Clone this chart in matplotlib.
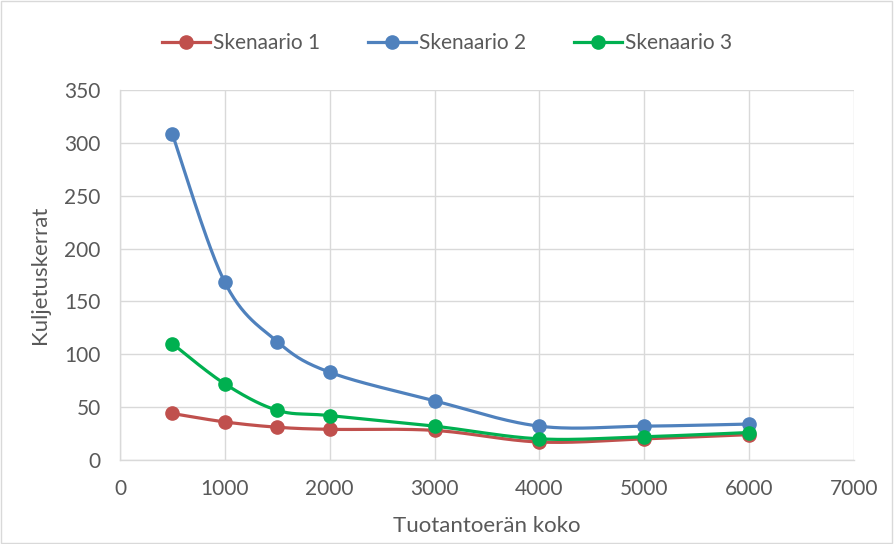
import matplotlib
matplotlib.use('Agg')
import matplotlib.pyplot as plt
from matplotlib.patches import Rectangle
import numpy as np

#=====================================================================
#     Data
#
batchSizes = [500, 1000, 1500, 2000, 3000, 4000, 5000, 6000]
scenario1 = [44, 36, 31, 29, 28, 17, 20, 24]
scenario2 = [308, 168, 112, 83, 56, 32, 32, 34]
scenario3 = [110, 72, 47, 42, 32, 20, 22, 26]

seriesNames = ['Skenaario 1', 'Skenaario 2', 'Skenaario 3']
seriesColors = ['#C0504D', '#4F81BD', '#00B050']

xTicks = [0, 1000, 2000, 3000, 4000, 5000, 6000, 7000]
yTicks = [0, 50, 100, 150, 200, 250, 300, 350]
#=====================================================================


def smooth(x, y, n=30):
    # Bezier smoothing through every point, tangents from neighbours
    x = np.asarray(x, float)
    y = np.asarray(y, float)
    px = np.concatenate([[x[0]], x, [x[-1]]])
    py = np.concatenate([[y[0]], y, [y[-1]]])
    t = np.linspace(0, 1, n)
    xs, ys = [], []
    for i in range(len(x) - 1):
        p0 = np.array([px[i + 1], py[i + 1]])
        p3 = np.array([px[i + 2], py[i + 2]])
        c1 = p0 + (p3 - np.array([px[i], py[i]])) / 6.0
        c2 = p3 - (np.array([px[i + 3], py[i + 3]]) - p0) / 6.0
        b = ((1 - t)**3)[:, None] * p0 + (3 * (1 - t)**2 * t)[:, None] * c1 \
            + (3 * (1 - t) * t**2)[:, None] * c2 + (t**3)[:, None] * p3
        xs.append(b[:, 0])
        ys.append(b[:, 1])
    return np.concatenate(xs), np.concatenate(ys)


plt.rcParams['font.family'] = ['Lato', 'DejaVu Sans']
textColor = '#595959'
textsize = 15

fig = plt.figure(figsize=(8.94, 5.44), dpi=100)
ax = fig.add_axes([120 / 894, 84 / 544, 734 / 894, 370 / 544])

for vals, name, col in zip([scenario1, scenario2, scenario3], seriesNames, seriesColors):
    sx, sy = smooth(batchSizes, vals)
    ax.plot(sx, sy, color=col, lw=2.3, zorder=3)
    ax.plot(batchSizes, vals, ls='none', marker='o', ms=9.5, color=col, zorder=4)
    ax.plot([], [], color=col, lw=2.3, marker='o', ms=9.5, label=name)

ax.set_xlim(0, 7000)
ax.set_ylim(0, 350)
ax.set_xticks(xTicks)
ax.set_yticks(yTicks)
ax.grid(True, color='#D9D9D9', lw=1)
ax.set_axisbelow(True)
for s in ['top', 'right']:
    ax.spines[s].set_visible(False)
for s in ['left', 'bottom']:
    ax.spines[s].set_color('#D9D9D9')
    ax.spines[s].set_linewidth(1)
ax.tick_params(axis='both', length=0, labelsize=textsize, labelcolor=textColor)
ax.tick_params(axis='y', pad=14)
ax.tick_params(axis='x', pad=14)
ax.set_xlabel('Tuotantoerän koko', fontsize=textsize + 1, color=textColor, labelpad=12)
ax.set_ylabel('Kuljetuskerrat', fontsize=textsize + 1, color=textColor, labelpad=10)

fig.legend(loc='center', bbox_to_anchor=(0.5, 1 - 43 / 544), ncol=3, frameon=False,
           fontsize=textsize, labelcolor=textColor, handlelength=2.3,
           handletextpad=0.15, columnspacing=2.3)

fig.patches.append(Rectangle((0.001, 0.001), 0.997, 0.997, transform=fig.transFigure,
                             fill=False, edgecolor='#D9D9D9', lw=1))

plt.savefig('out.png', dpi=100)
#=====================================================================
